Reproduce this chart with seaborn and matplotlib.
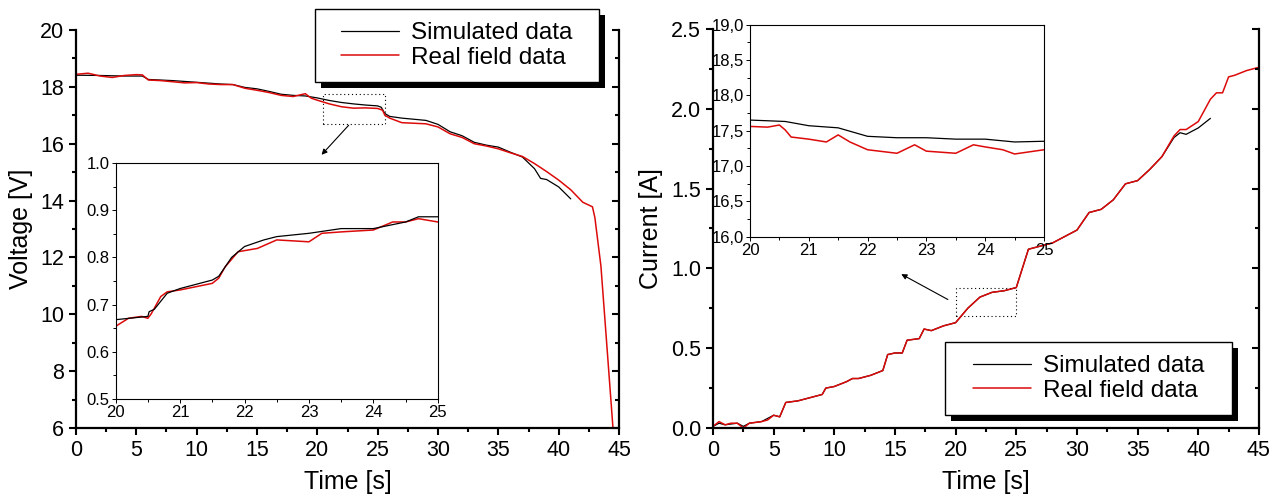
import matplotlib
matplotlib.use('Agg')
import matplotlib.pyplot as plt
from matplotlib.patches import Rectangle
from matplotlib.ticker import MultipleLocator, FuncFormatter
import seaborn as sns

# voltage, main panel (left)
t_v_real = [0, 1, 2, 3, 4, 5, 5.5, 6, 7, 8, 9, 10, 11, 12, 13, 14, 15, 16, 17, 18,
            19, 19.5, 20, 21, 22, 23, 24, 25, 25.4, 25.6, 26, 27, 28, 29, 30, 31, 32, 33, 34, 35,
            36, 37, 38, 39, 40, 41, 42, 42.8, 43.0, 43.5, 43.8, 44.5]
v_real = [18.44, 18.48, 18.38, 18.33, 18.40, 18.43, 18.42, 18.24, 18.22, 18.18, 18.14, 18.15,
          18.10, 18.08, 18.08, 17.95, 17.88, 17.80, 17.70, 17.66, 17.76, 17.60, 17.53, 17.40,
          17.30, 17.25, 17.26, 17.24, 17.18, 17.00, 16.90, 16.74, 16.72, 16.70, 16.59, 16.35,
          16.22, 16.00, 15.92, 15.82, 15.68, 15.55, 15.30, 15.02, 14.72, 14.38, 13.94, 13.78,
          13.40, 11.70, 10.00, 6.00]
t_v_sim = [0, 2, 4, 5.5, 6, 8, 10, 12, 13, 14, 15, 16, 17, 18, 19, 20, 21, 22, 23, 24,
           25, 25.3, 25.6, 26, 27, 28, 29, 30, 31, 32, 33, 34, 35, 36, 37, 38, 38.5, 39, 40, 41]
v_sim = [18.41, 18.40, 18.38, 18.38, 18.26, 18.22, 18.16, 18.10, 18.08, 17.98, 17.93, 17.84,
         17.74, 17.70, 17.68, 17.61, 17.52, 17.45, 17.40, 17.36, 17.33, 17.28, 17.06, 16.96,
         16.90, 16.86, 16.82, 16.68, 16.42, 16.28, 16.05, 15.95, 15.88, 15.70, 15.53, 15.12,
         14.78, 14.74, 14.48, 14.06]

# current, main panel (right)
t_i_real = [0, 0.5, 1, 1.5, 2, 2.5, 3, 4, 4.5, 5, 5.5, 6, 7, 8, 9, 9.3, 10, 11, 11.5, 12,
            13, 14, 14.4, 15, 15.6, 16, 17, 17.4, 18, 19, 20, 21, 22, 23, 24, 25, 25.5, 26, 27, 28,
            29, 30, 31, 32, 33, 34, 35, 36, 37, 38, 38.5, 39, 40, 41, 41.5, 42, 42.5, 43, 44, 45]
i_real = [0.01, 0.04, 0.02, 0.03, 0.03, 0.00, 0.03, 0.04, 0.05, 0.08, 0.07, 0.16, 0.17, 0.19,
          0.21, 0.25, 0.26, 0.29, 0.31, 0.31, 0.33, 0.36, 0.46, 0.47, 0.47, 0.55, 0.56, 0.62,
          0.61, 0.64, 0.66, 0.75, 0.82, 0.85, 0.86, 0.88, 1.00, 1.12, 1.14, 1.16, 1.20, 1.24,
          1.35, 1.37, 1.43, 1.53, 1.55, 1.62, 1.70, 1.83, 1.87, 1.87, 1.92, 2.06, 2.10, 2.10,
          2.20, 2.21, 2.24, 2.26]
t_i_sim = [0, 0.5, 1, 2, 2.5, 3, 4, 5, 5.5, 6, 7, 8, 9, 9.3, 10, 11, 11.5, 12, 13, 14,
           14.4, 15, 15.6, 16, 17, 17.4, 18, 19, 20, 21, 22, 23, 24, 25, 25.5, 26, 27, 28, 29, 30,
           31, 32, 33, 34, 35, 36, 37, 38, 38.5, 39, 40, 41]
i_sim = [0.01, 0.03, 0.02, 0.03, 0.01, 0.03, 0.04, 0.08, 0.07, 0.16, 0.17, 0.19, 0.21, 0.25,
         0.26, 0.29, 0.31, 0.31, 0.33, 0.36, 0.46, 0.47, 0.47, 0.55, 0.56, 0.62, 0.61, 0.64,
         0.66, 0.75, 0.82, 0.85, 0.86, 0.88, 1.00, 1.12, 1.14, 1.16, 1.20, 1.24, 1.35, 1.37,
         1.43, 1.53, 1.55, 1.62, 1.70, 1.82, 1.85, 1.84, 1.88, 1.94]

# inset in the left panel (20-25 s)
t_in1_sim = [20, 20.5, 20.52, 20.6, 20.8, 21, 21.5, 21.6, 21.8, 22, 22.3, 22.5, 23, 23.5,
             24, 24.5, 24.7, 25]
in1_sim = [0.668, 0.675, 0.685, 0.690, 0.724, 0.734, 0.752, 0.760, 0.800, 0.823, 0.837,
           0.844, 0.851, 0.861, 0.861, 0.875, 0.886, 0.886]
t_in1_real = [20, 20.2, 20.4, 20.5, 20.55, 20.7, 20.8, 21, 21.5, 21.6, 21.7, 21.9, 22.2,
              22.5, 23, 23.2, 23.5, 24, 24.3, 24.5, 24.7, 25]
in1_real = [0.654, 0.671, 0.675, 0.671, 0.680, 0.717, 0.727, 0.731, 0.745, 0.756, 0.780,
            0.812, 0.819, 0.837, 0.833, 0.851, 0.854, 0.858, 0.875, 0.875, 0.882, 0.875]

# inset in the right panel (20-25 s)
t_in2_sim = [20, 20.6, 21, 21.5, 22, 22.5, 23, 23.5, 24, 24.5, 25]
in2_sim = [17.65, 17.63, 17.57, 17.54, 17.42, 17.40, 17.40, 17.38, 17.38, 17.34, 17.35]
t_in2_real = [20, 20.3, 20.5, 20.6, 20.7, 21, 21.3, 21.5, 21.7, 22, 22.5, 22.8, 23, 23.5,
              23.8, 24, 24.3, 24.5, 25]
in2_real = [17.56, 17.55, 17.58, 17.51, 17.41, 17.38, 17.34, 17.44, 17.34, 17.23, 17.18,
            17.30, 17.21, 17.18, 17.30, 17.27, 17.23, 17.17, 17.23]

labels = ['Simulated data', 'Real field data']

sns.set_style('ticks')
plt.rcParams['font.family'] = ['Liberation Sans', 'DejaVu Sans']
for k in ['text.color', 'axes.labelcolor', 'xtick.color', 'ytick.color']:
    plt.rcParams[k] = 'black'
RED = '#dd0a0a'


def style_main(ax, ylim, ymaj, ymin, ylabel, label_x):
    ax.set_xlim(0, 45)
    ax.set_ylim(*ylim)
    ax.xaxis.set_major_locator(MultipleLocator(5))
    ax.xaxis.set_minor_locator(MultipleLocator(2.5))
    ax.yaxis.set_major_locator(MultipleLocator(ymaj))
    ax.yaxis.set_minor_locator(MultipleLocator(ymin))
    ax.spines['top'].set_visible(False)
    ax.spines['right'].set_visible(False)
    for s in ['left', 'bottom']:
        ax.spines[s].set_linewidth(1.6)
        ax.spines[s].set_color('black')
    ax.tick_params(which='both', direction='out', width=1.5, color='black', labelsize=15.5)
    ax.tick_params(which='major', length=5)
    ax.tick_params(which='minor', length=3)
    ax.set_xlabel('Time [s]', fontsize=18)
    ax.set_ylabel(ylabel, fontsize=18)
    ax.xaxis.set_label_coords(0.5, -0.105)
    ax.yaxis.set_label_coords(label_x, 0.5)
    # ticks of the right spine point inwards
    tw = ax.twinx()
    tw.set_ylim(*ylim)
    tw.yaxis.set_major_locator(MultipleLocator(ymaj))
    tw.yaxis.set_minor_locator(MultipleLocator(ymin))
    for s in ['top', 'left', 'bottom']:
        tw.spines[s].set_visible(False)
    tw.spines['right'].set_linewidth(1.6)
    tw.spines['right'].set_color('black')
    tw.tick_params(which='both', direction='in', width=1.5, color='black', labelright=False)
    tw.tick_params(which='major', length=5)
    tw.tick_params(which='minor', length=3)
    tw.grid(False)


def style_inset(ax, ylim, ymaj, ymin, comma=False):
    ax.set_xlim(20, 25)
    ax.set_ylim(*ylim)
    ax.xaxis.set_major_locator(MultipleLocator(1))
    ax.xaxis.set_minor_locator(MultipleLocator(0.5))
    ax.yaxis.set_major_locator(MultipleLocator(ymaj))
    ax.yaxis.set_minor_locator(MultipleLocator(ymin))
    for s in ax.spines.values():
        s.set_linewidth(0.8)
        s.set_color('black')
    ax.tick_params(which='both', direction='out', width=0.7, color='black',
                   labelsize=12, pad=1.5)
    ax.tick_params(which='major', length=3)
    ax.tick_params(which='minor', length=2)
    if comma:
        ax.yaxis.set_major_formatter(FuncFormatter(lambda v, p: f'{v:.1f}'.replace('.', ',')))
    else:
        ax.yaxis.set_major_formatter(FuncFormatter(lambda v, p: f'{v:.1f}'))
    ax.set_xlabel('')
    ax.set_ylabel('')


def legend_box(ax, x0, y0, w, h, px_w, px_h):
    dx, dy = 6 / px_w, 6 / px_h
    ax.add_patch(Rectangle((x0 + dx, y0 - dy), w, h, transform=ax.transAxes,
                           fc='black', ec='none', clip_on=False, zorder=6.9))
    ax.add_patch(Rectangle((x0, y0), w, h, transform=ax.transAxes,
                           fc='white', ec='black', lw=1, clip_on=False, zorder=7))
    leg = ax.legend(loc='center', bbox_to_anchor=(x0 + w / 2, y0 + h / 2),
                    bbox_transform=ax.transAxes, frameon=False, fontsize=17.5,
                    handlelength=2.4, handletextpad=0.5, labelspacing=0.1)
    leg.set_zorder(8)


fig = plt.figure(figsize=(12.75, 4.99), dpi=100)
ax1 = fig.add_axes([0.0596, 0.1423, 0.4259, 0.7976])
ax2 = fig.add_axes([0.5592, 0.1423, 0.4282, 0.7996])

# left panel
sns.lineplot(x=t_v_sim, y=v_sim, ax=ax1, color='black', lw=0.9, label=labels[0])
sns.lineplot(x=t_v_real, y=v_real, ax=ax1, color=RED, lw=1.1, label=labels[1])
ax1.add_patch(Rectangle((20.5, 16.7), 5.1, 1.05, fill=False, ec='black', lw=0.8,
                        ls=(0, (1, 2.5))))
ax1.annotate('', xy=(20.35, 15.61), xytext=(22.6, 16.65),
             arrowprops=dict(arrowstyle='-|>', color='black', lw=0.8,
                             mutation_scale=8, shrinkA=0, shrinkB=0))
style_main(ax1, (6, 20), 2, 1, 'Voltage [V]', -0.079)
legend_box(ax1, 0.44, 0.869, 0.523, 0.184, 543, 398)

# right panel
sns.lineplot(x=t_i_sim, y=i_sim, ax=ax2, color='black', lw=0.9, label=labels[0])
sns.lineplot(x=t_i_real, y=i_real, ax=ax2, color=RED, lw=1.1, label=labels[1])
ax2.add_patch(Rectangle((20, 0.70), 5, 0.175, fill=False, ec='black', lw=0.8,
                        ls=(0, (1, 2.5))))
ax2.annotate('', xy=(15.52, 0.964), xytext=(19.36, 0.805),
             arrowprops=dict(arrowstyle='-|>', color='black', lw=0.8,
                             mutation_scale=8, shrinkA=0, shrinkB=0))
style_main(ax2, (0, 2.5), 0.5, 0.25, 'Current [A]', -0.092)
legend_box(ax2, 0.425, 0.0326, 0.5255, 0.1829, 546, 399)

# insets
in1 = fig.add_axes([0.0907, 0.2004, 0.2527, 0.473])
sns.lineplot(x=t_in1_real, y=in1_real, ax=in1, color=RED, lw=1.1, legend=False)
sns.lineplot(x=t_in1_sim, y=in1_sim, ax=in1, color='black', lw=0.9, legend=False)
style_inset(in1, (0.5, 1.0), 0.1, 0.05)

in2 = fig.add_axes([0.5882, 0.5257, 0.2306, 0.4249])
sns.lineplot(x=t_in2_sim, y=in2_sim, ax=in2, color='black', lw=0.9, legend=False)
sns.lineplot(x=t_in2_real, y=in2_real, ax=in2, color=RED, lw=1.1, legend=False)
style_inset(in2, (16.0, 19.0), 0.5, 0.25, comma=True)

fig.savefig('out.png', dpi=100, facecolor='white')
